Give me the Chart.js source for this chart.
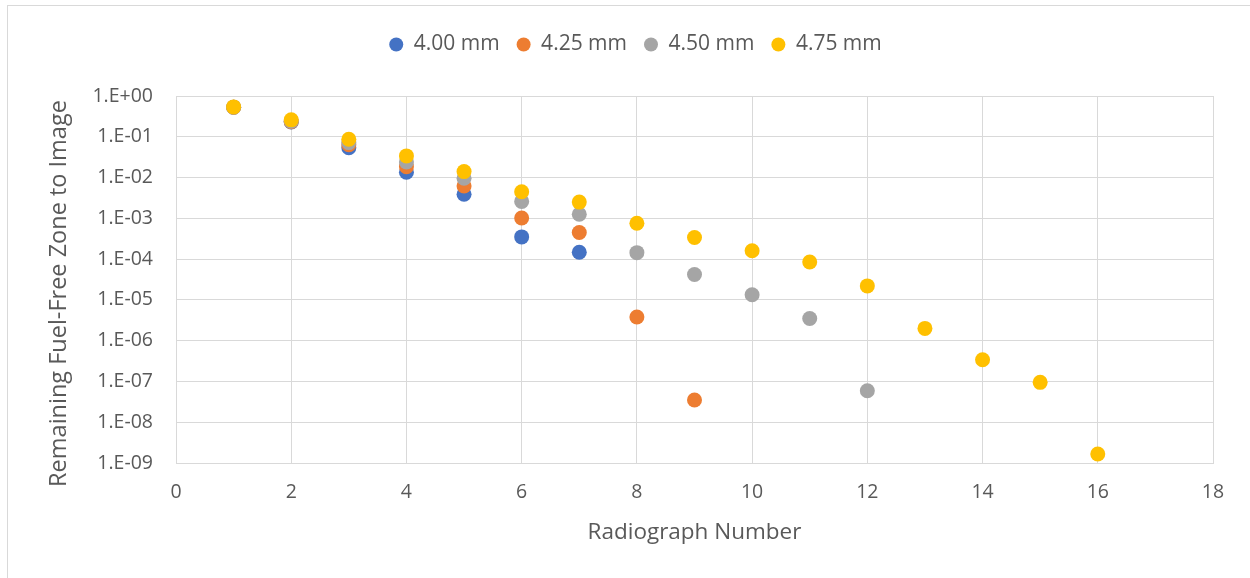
<!DOCTYPE html>
<html>
<head>
<meta charset="utf-8">
<script src="https://cdn.jsdelivr.net/npm/chart.js@4.4.1/dist/chart.umd.min.js"></script>
<style>
  html, body { margin: 0; padding: 0; background: #ffffff; }
  #frame {
    position: absolute; left: 7px; top: 5px; width: 1250px; height: 580px;
    border-left: 1px solid #d9d9d9; border-top: 1px solid #d9d9d9;
    box-sizing: border-box;
  }
  #wrap { position: absolute; left: 0; top: 0; width: 1250px; height: 578px; }
</style>
</head>
<body>
<div id="frame"></div>
<div id="wrap"><canvas id="chart" width="1250" height="578"></canvas></div>
<script>
// Radiograph number for each measurement
const radiographs = [1, 2, 3, 4, 5, 6, 7, 8, 9, 10, 11, 12, 13, 14, 15, 16];

// Remaining fuel-free zone fraction per annulus gap
const gap400 = [0.53, 0.23, 0.054, 0.0135, 0.0039, 0.00035, 0.000147];
const gap425 = [0.53, 0.235, 0.064, 0.0185, 0.0062, 0.00102, 0.00045, 3.8e-6, 3.5e-8];
const gap450 = [0.53, 0.24, 0.072, 0.024, 0.0096, 0.0026, 0.00126, 1.44e-4, 4.2e-5, 1.34e-5, 3.5e-6, 5.9e-8];
const gap475 = [0.54, 0.26, 0.087, 0.034, 0.014, 0.0045, 0.0025, 0.00076, 0.00034, 0.00016, 8.5e-5, 2.2e-5, 2.0e-6, 3.4e-7, 9.5e-8, 1.66e-9];

const seriesNames = ['4.00 mm', '4.25 mm', '4.50 mm', '4.75 mm'];
const seriesColors = ['#4472c4', '#ed7d31', '#a5a5a5', '#ffc000'];

// Decade gridlines and their labels
const yTickValues = [1, 1e-1, 1e-2, 1e-3, 1e-4, 1e-5, 1e-6, 1e-7, 1e-8, 1e-9];
const yTickLabels = ['1.E+00', '1.E-01', '1.E-02', '1.E-03', '1.E-04', '1.E-05', '1.E-06', '1.E-07', '1.E-08', '1.E-09'];

const toPoints = vals => vals.map((v, i) => ({ x: radiographs[i], y: v }));
const allSeries = [gap400, gap425, gap450, gap475];

// later series are painted over earlier ones
const datasets = allSeries.map((vals, i) => ({
  label: seriesNames[i],
  data: toPoints(vals),
  order: allSeries.length - i,
  backgroundColor: seriesColors[i],
  borderColor: seriesColors[i],
  pointRadius: 7.5,
  pointHoverRadius: 7.5,
  pointBorderWidth: 0,
  showLine: false
}));

const FONT = '"Open Sans", Lato, sans-serif';
const GRID = '#d9d9d9';
const TEXT = '#595959';

// extra room under the legend row, legend nudged right,
// and the vertical axis title nudged down a little
const layoutTweaks = {
  id: 'layoutTweaks',
  beforeInit(chart) {
    const fit = chart.legend.fit;
    chart.legend.fit = function () {
      fit.call(this);
      this.height += 31;
    };
  },
  afterLayout(chart) {
    chart.legend.left += 50;
    const y = chart.scales.y;
    if (!y._titleShifted) {
      const drawTitle = y.drawTitle;
      y.drawTitle = function () {
        this.ctx.save();
        this.ctx.translate(0, 14);
        drawTitle.call(this);
        this.ctx.restore();
      };
      y._titleShifted = true;
    }
  }
};

new Chart(document.getElementById('chart'), {
  type: 'scatter',
  data: { datasets },
  plugins: [layoutTweaks],
  options: {
    responsive: false,
    animation: false,
    events: [],
    layout: { padding: { left: 8, right: 37, top: 17, bottom: 30 } },
    plugins: {
      tooltip: { enabled: false },
      legend: {
        position: 'top',
        align: 'center',
        labels: {
          usePointStyle: true,
          pointStyle: 'circle',
          boxHeight: 10,
          pointStyleWidth: 14,
          padding: 17,
          color: TEXT,
          font: { family: FONT, size: 21 },
          sort: (a, b) => a.datasetIndex - b.datasetIndex
        }
      }
    },
    scales: {
      x: {
        type: 'linear',
        min: 0,
        max: 18,
        afterFit: scale => { scale.height = 85; },
        ticks: { stepSize: 2, color: TEXT, font: { family: FONT, size: 19.5 }, padding: 18 },
        grid: { color: GRID, lineWidth: 1, drawTicks: false },
        border: { color: GRID, width: 1 },
        title: { display: true, text: 'Radiograph Number', color: TEXT, font: { family: FONT, size: 22.5 }, padding: { top: 0, bottom: 2 } }
      },
      y: {
        type: 'logarithmic',
        min: 1e-9,
        max: 1,
        afterBuildTicks: scale => { scale.ticks = yTickValues.map(v => ({ value: v })); },
        afterFit: scale => { scale.width = 168; },
        ticks: {
          color: TEXT,
          font: { family: FONT, size: 19.5 },
          padding: 23,
          callback: (value) => {
            const idx = yTickValues.findIndex(t => Math.abs(Math.log10(t) - Math.log10(value)) < 1e-6);
            return idx >= 0 ? yTickLabels[idx] : '';
          }
        },
        grid: { color: GRID, lineWidth: 1, drawTicks: false },
        border: { color: GRID, width: 1 },
        title: { display: true, text: 'Remaining Fuel-Free Zone to Image', color: TEXT, font: { family: FONT, size: 23.5 }, padding: { top: 37, bottom: 0 } }
      }
    }
  }
});
</script>
</body>
</html>
